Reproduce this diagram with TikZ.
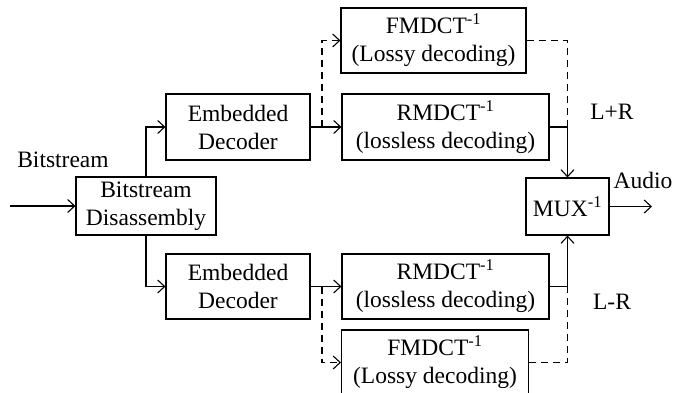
\documentclass[tikz,border=0pt]{standalone}
\usepackage{fontspec}
\setmainfont{Liberation Serif}
\usepackage{tikz}
\usetikzlibrary{arrows.meta}

\tikzset{
  blk/.style={draw, line width=1.1pt, align=center, inner sep=0pt,
    font=\fontsize{23.5}{28}\selectfont},
  lbl/.style={align=center, font=\fontsize{23.5}{28}\selectfont},
  wire/.style={line width=1.1pt, -{Straight Barb[length=7pt,width=13pt]}},
  plain/.style={line width=1.1pt},
  dashline/.style={dash pattern=on 7pt off 5pt},
}

\begin{document}
\begin{tikzpicture}[x=1pt,y=1pt,yscale=-1,xscale=1]
\useasboundingbox (0,0) rectangle (689,393);

% boxes
\node [blk, minimum width=140pt, minimum height=58pt] (dis) at (146,206) {Bitstream\\Disassembly};
\node [blk, minimum width=144pt, minimum height=66pt] (emb1) at (238,127) {Embedded\\Decoder};
\node [blk, minimum width=144pt, minimum height=65pt] (emb2) at (238,286.5) {Embedded\\Decoder};
\node [blk, minimum width=185pt, minimum height=65pt] (fm1) at (433.5,40.5) {FMDCT\textsuperscript{-1}\\(Lossy decoding)};
\node [blk, minimum width=207pt, minimum height=66pt] (rm1) at (445.5,127) {RMDCT\textsuperscript{-1}\\(lossless decoding)};
\node [blk, minimum width=207pt, minimum height=65pt] (rm2) at (445.5,286.5) {RMDCT\textsuperscript{-1}\\(lossless decoding)};
\node [blk, minimum width=187pt, minimum height=65pt] (fm2) at (435,362.5) {FMDCT\textsuperscript{-1}\\(Lossy decoding)};
\node [blk, minimum width=83pt, minimum height=57pt] (mux) at (567.5,206.5) {MUX\textsuperscript{-1}};

% labels
\node [lbl] (bits) at (63,160) {Bitstream};
\node [lbl] (audio) at (643,180) {Audio};
\node [lbl] (lpr) at (612,112) {L+R};
\node [lbl] (lmr) at (612,302) {L-R};

\coordinate (in) at (10,206);
\coordinate (out) at (652,206.5);
\coordinate (s1) at (322,127);
\coordinate (s2) at (322,286.5);

% connectors
\draw [wire] (in) -- (dis);
\draw [wire] (dis.north) |- (emb1);
\draw [wire] (dis.south) |- (emb2);
\draw [wire] (emb1) -- (rm1);
\draw [wire] (emb2) -- (rm2);
\draw [wire,dashline] (s1) |- (fm1);
\draw [wire,dashline] (s2) |- (fm2);
\draw [wire] (rm1) -| (mux.north);
\draw [wire] (rm2) -| (mux.south);
\draw [plain,dashline] (fm1) -| (mux.north |- rm1.east);
\draw [plain,dashline] (fm2) -| (mux.south |- rm2.east);
\draw [wire] (mux) -- (out);
\end{tikzpicture}
\end{document}
